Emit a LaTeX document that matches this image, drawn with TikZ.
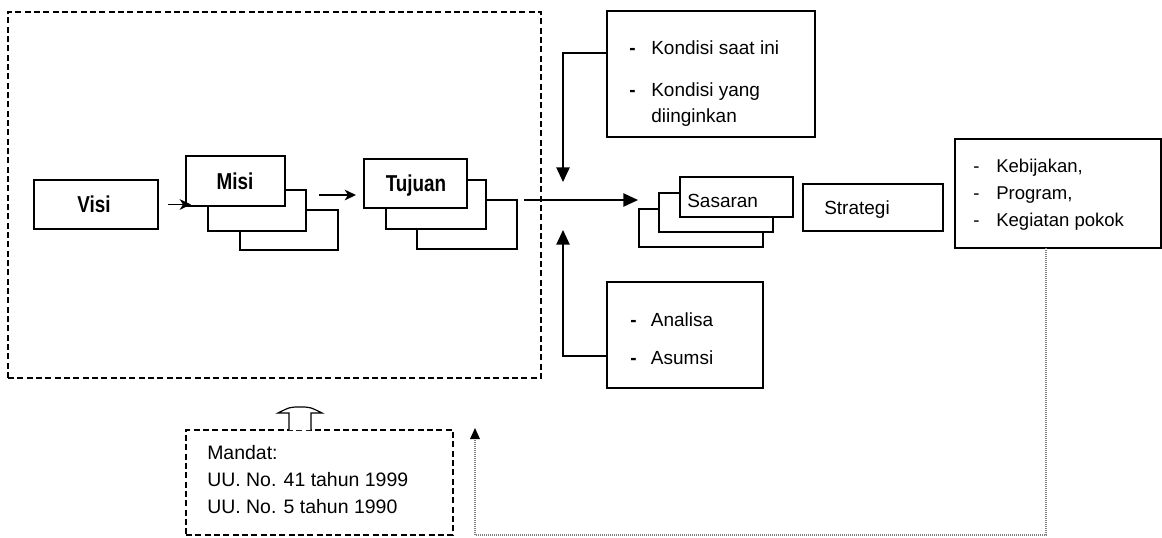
\documentclass[tikz,border=0pt]{standalone}
\usepackage{fontspec}
\setmainfont{Liberation Sans}
\newfontfamily\lblfont[FakeStretch=0.82]{Liberation Sans}
\usetikzlibrary{arrows.meta,calc}
\begin{document}
\begin{tikzpicture}[x=0.75pt,y=-0.75pt,
  box/.style 2 args={draw, line width=1.1pt, fill=white, inner sep=0pt, outer sep=0pt,
    minimum width=#1*0.75pt, minimum height=#2*0.75pt},
  dbox/.style 2 args={box={#1}{#2}, dash pattern=on 4.5pt off 2.5pt},
  lbl/.style={font=\lblfont\bfseries\fontsize{17.25pt}{20pt}\selectfont, inner sep=0pt, anchor=base},
  txt/.style={font=\fontsize{14.25pt}{19.5pt}\selectfont, inner sep=0pt, anchor=base west},
  conn/.style={line width=1.1pt},
  bigtip/.style={-{Triangle[length=11pt,width=10pt]}},
  smalltip/.style={-{Stealth[length=8.5pt,width=8pt,inset=2.5pt]}},
  dotline/.style={gray, line width=1pt, dash pattern=on 0.75pt off 0.75pt}
]
\useasboundingbox (0,0) rectangle (1162,537);

% outer dashed frame
\node[dbox={533}{366}] (frame) at (274.5,195) {};

% Visi
\node[box={124}{49}] (visi) at (96,204.5) {};
\node[lbl] (visit) at (94,212.5) {Visi};

% Misi stack
\node[box={98}{40}] (misi3) at (289,230) {};
\node[box={98}{41}] (misi2) at (257,210.5) {};
\node[box={99}{50}] (misi1) at (235.5,181) {};
\node[lbl] (misit) at (235,189) {Misi};

% Tujuan stack
\node[box={100}{49}] (tuj3) at (467,224.5) {};
\node[box={100}{49}] (tuj2) at (436,204.5) {};
\node[box={103}{49}] (tuj1) at (415.5,183.5) {};
\node[lbl] (tujt) at (416,191) {Tujuan};

% Sasaran stack
\node[box={124}{38}] (sas3) at (701,228) {};
\node[box={114}{39}] (sas2) at (716,212.5) {};
\node[box={113}{40}] (sas1) at (736.5,197) {};
\node[txt] (sast) at (687,207.5) {Sasaran};

% Strategi
\node[box={140}{47}] (strat) at (873,207.5) {};
\node[txt] (stratt) at (824,214) {Strategi};

% Kebijakan
\node[box={206}{109}] (keb) at (1058,193.5) {};
\node[txt] (kebt) at (973,172) {\fontsize{13.9pt}{20.25pt}\selectfont
  \begin{tabular}[t]{@{}p{17.25pt}@{}l@{}}-&Kebijakan,\\ -&Program,\\ -&Kegiatan pokok\end{tabular}};

% Kondisi
\node[box={208}{126}] (kond) at (711,74) {};
\node[txt] (kondt) at (629,54) {\fontsize{14.25pt}{19.5pt}\selectfont
  \begin{tabular}[t]{@{}p{16.5pt}@{}l@{}}\textbf{-}&Kondisi saat ini\\[12pt] \textbf{-}&Kondisi yang\\ &diinginkan\end{tabular}};

% Analisa
\node[box={156}{106}] (anal) at (685,335) {};
\node[txt] (analt) at (630,326) {\fontsize{14.25pt}{19.5pt}\selectfont
  \begin{tabular}[t]{@{}p{15.5pt}@{}l@{}}\textbf{-}&Analisa\\[9pt] \textbf{-}&Asumsi\end{tabular}};

% Mandat
\node[dbox={267}{105}] (mandat) at (319.5,482.5) {};
\node[txt] (mandatt) at (207,459) {\fontsize{14.6pt}{20.25pt}\selectfont
  \begin{tabular}[t]{@{}l@{}}Mandat:\\ UU. No. 41 tahun 1999\\ UU. No. 5 tahun 1990\end{tabular}};

% connectors
\draw[conn,smalltip] ($(visi.east)+(10,0)$) -- ($(misi1.south west)+(5,-1.5)$);
\draw[conn,smalltip] ($(misi2.north east)+(13,5)$) -- ($(tuj1.south west)+(-8,-13)$);
\draw[conn,bigtip] ($(tuj3.north east)+(7,0)$) -- ($(sas3.north west |- tuj3.north east)+(-1,0)$);

\coordinate (kin) at (563,182);
\coordinate (ain) at (563,230);
\draw[conn,bigtip] ($(kond.north west)+(0,42)$) -| (kin);
\draw[conn,bigtip] ($(anal.north west)+(0,74)$) -| (ain);

% dotted feedback
\coordinate (d1) at (1046,535);
\coordinate (d2) at (475,535);
\coordinate (d3) at (475,428);
\draw[dotline] ($(keb.south)+(-12,0)$) -- (d1) -- (d2) -- ($(d3)+(0,8)$);
\draw[fill=black, draw=none] (d3) -- ++(-5,11) -- ++(10,0) -- cycle;

% hollow up arrow
\draw[line width=0.9pt, fill=white] (289,430) -- (289,413) -- (278,413) .. controls (290,407) .. (300,407) .. controls (310,407) .. (322,413) -- (311,413) -- (311,430);
\end{tikzpicture}
\end{document}
